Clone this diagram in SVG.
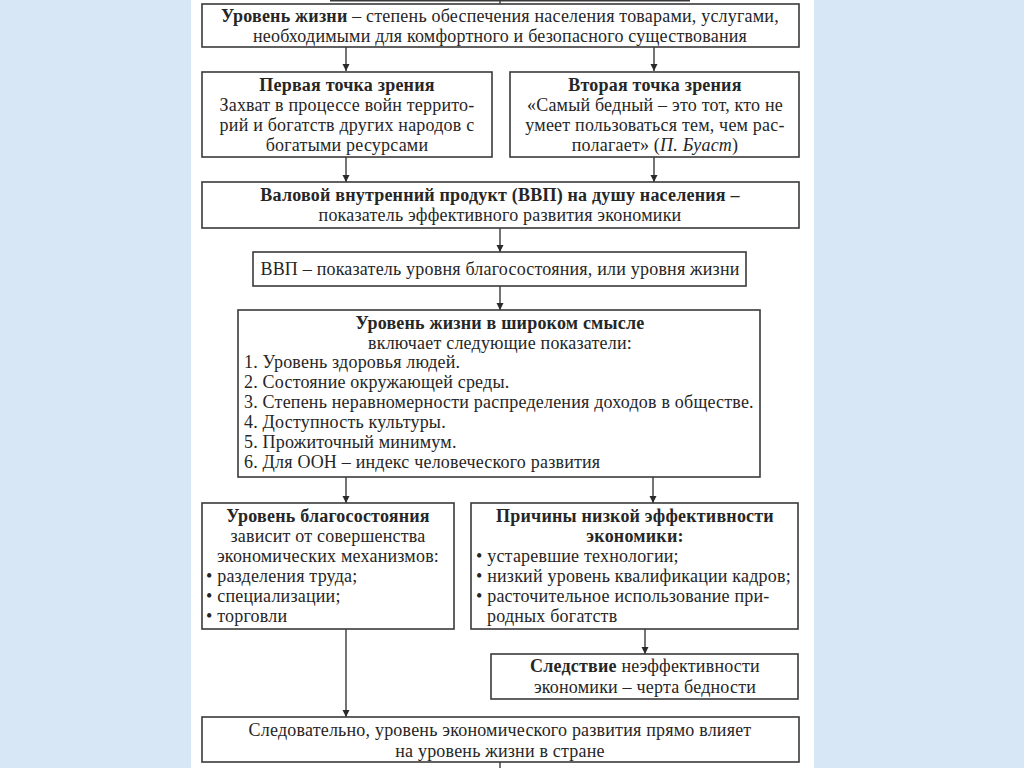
<svg xmlns="http://www.w3.org/2000/svg" width="1024" height="768" viewBox="0 0 1024 768">
<defs>
<style>
.bg{fill:#d8e7f5}
.panel{fill:#ffffff}
.box{fill:#ffffff;stroke:#3a3a3a;stroke-width:1.6}
.con{stroke:#3a3a3a;stroke-width:1.4;fill:none}
text{font-family:"Liberation Serif","Times New Roman",serif;font-size:18px;letter-spacing:0.2px;fill:#262626}
.c{text-anchor:middle}
.b{font-weight:bold}
.i{font-style:italic}
</style>
<marker id="arr" viewBox="0 0 10 10" refX="10" refY="5" markerWidth="7" markerHeight="8" markerUnits="userSpaceOnUse" orient="auto">
<path d="M0,0 L10,5 L0,10 Z" fill="#2a2a2a"/>
</marker>
</defs>
<rect class="bg" x="0" y="0" width="1024" height="768"/>
<rect class="panel" x="191" y="0" width="623" height="768"/>

<g id="connectors">
<line class="con" x1="330" y1="0.8" x2="690" y2="0.8"/>
<line class="con" x1="500" y1="0" x2="500" y2="4"/>
<line class="con" x1="346" y1="47" x2="346" y2="71" marker-end="url(#arr)"/>
<line class="con" x1="654" y1="47" x2="654" y2="71" marker-end="url(#arr)"/>
<line class="con" x1="346" y1="157" x2="346" y2="182" marker-end="url(#arr)"/>
<line class="con" x1="654" y1="157" x2="654" y2="182" marker-end="url(#arr)"/>
<line class="con" x1="500" y1="228" x2="500" y2="252" marker-end="url(#arr)"/>
<line class="con" x1="500" y1="286" x2="500" y2="310" marker-end="url(#arr)"/>
<line class="con" x1="346" y1="477" x2="346" y2="503" marker-end="url(#arr)"/>
<line class="con" x1="653" y1="477" x2="653" y2="503" marker-end="url(#arr)"/>
<line class="con" x1="645" y1="629" x2="645" y2="654" marker-end="url(#arr)"/>
<line class="con" x1="346" y1="629" x2="346" y2="717" marker-end="url(#arr)"/>
<line class="con" x1="500" y1="762" x2="500" y2="768"/>
</g>

<g id="n-definition">
<rect class="box" x="202" y="4" width="597" height="43"/>
<text class="c" x="500" y="22"><tspan class="b">Уровень жизни</tspan> – степень обеспечения населения товарами, услугами,</text>
<text class="c" x="500" y="42">необходимыми для комфортного и безопасного существования</text>
</g>

<g id="n-view1">
<rect class="box" x="202" y="72" width="290" height="85"/>
<text class="c b" x="347" y="91">Первая точка зрения</text>
<text class="c" x="347" y="111">Захват в процессе войн террито-</text>
<text class="c" x="347" y="131">рий и богатств других народов с</text>
<text class="c" x="347" y="151">богатыми ресурсами</text>
</g>

<g id="n-view2">
<rect class="box" x="510" y="72" width="289" height="85"/>
<text class="c b" x="655" y="91">Вторая точка зрения</text>
<text class="c" x="655" y="111">«Самый бедный – это тот, кто не</text>
<text class="c" x="655" y="131">умеет пользоваться тем, чем рас-</text>
<text class="c" x="655" y="151">полагает» (<tspan class="i">П. Буаст</tspan>)</text>
</g>

<g id="n-gdp">
<rect class="box" x="202" y="182" width="597" height="46"/>
<text class="c b" x="500" y="201">Валовой внутренний продукт (ВВП) на душу населения –</text>
<text class="c" x="500" y="221">показатель эффективного развития экономики</text>
</g>

<g id="n-gdp-indicator">
<rect class="box" x="253" y="252" width="493" height="34"/>
<text class="c" x="500" y="275">ВВП – показатель уровня благосостояния, или уровня жизни</text>
</g>

<g id="n-broad">
<rect class="box" x="238" y="310" width="522" height="167"/>
<text class="c b" x="500" y="329">Уровень жизни в широком смысле</text>
<text class="c" x="500" y="349">включает следующие показатели:</text>
<text x="244" y="368">1. Уровень здоровья людей.</text>
<text x="244" y="388">2. Состояние окружающей среды.</text>
<text x="244" y="408">3. Степень неравномерности распределения доходов в обществе.</text>
<text x="244" y="428">4. Доступность культуры.</text>
<text x="244" y="448">5. Прожиточный минимум.</text>
<text x="244" y="468">6. Для ООН – индекс человеческого развития</text>
</g>

<g id="n-welfare">
<rect class="box" x="202" y="503" width="252" height="126"/>
<text class="c b" x="328" y="522">Уровень благосостояния</text>
<text class="c" x="328" y="542">зависит от совершенства</text>
<text class="c" x="328" y="562">экономических механизмов:</text>
<text x="206" y="582">• разделения труда;</text>
<text x="206" y="602">• специализации;</text>
<text x="206" y="622">• торговли</text>
</g>

<g id="n-causes">
<rect class="box" x="471" y="503" width="327" height="126"/>
<text class="c b" x="635" y="522">Причины низкой эффективности</text>
<text class="c b" x="635" y="542">экономики:</text>
<text x="476" y="562">• устаревшие технологии;</text>
<text x="476" y="582">• низкий уровень квалификации кадров;</text>
<text x="476" y="602">• расточительное использование при-</text>
<text x="487" y="622">родных богатств</text>
</g>

<g id="n-consequence">
<rect class="box" x="491" y="654" width="307" height="45"/>
<text class="c" x="645" y="672"><tspan class="b">Следствие</tspan> неэффективности</text>
<text class="c" x="645" y="693">экономики – черта бедности</text>
</g>

<g id="n-conclusion">
<rect class="box" x="202" y="717" width="597" height="45"/>
<text class="c" x="500" y="736">Следовательно, уровень экономического развития прямо влияет</text>
<text class="c" x="500" y="757">на уровень жизни в стране</text>
</g>
</svg>
